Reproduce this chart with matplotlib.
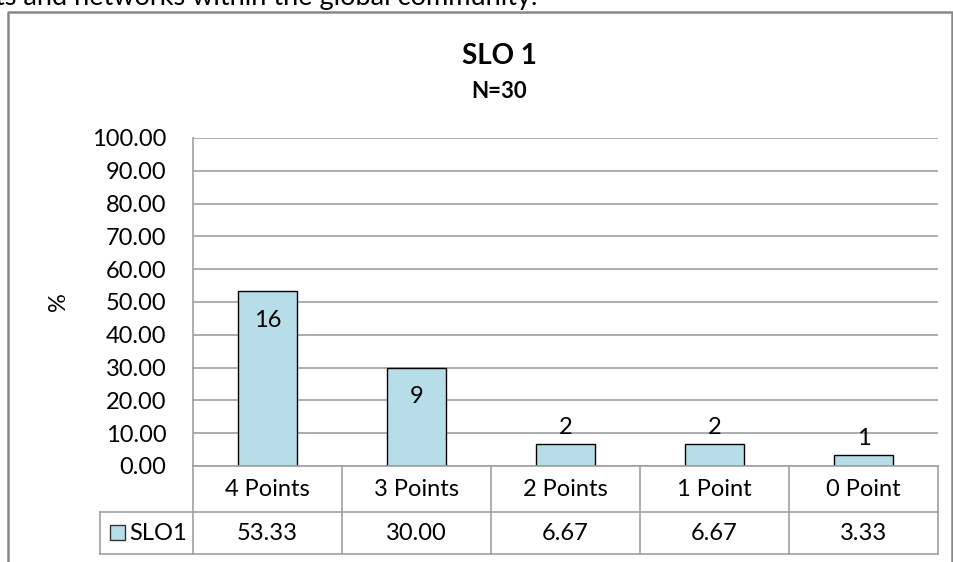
import numpy as np
import matplotlib.pyplot as plt
from matplotlib.patches import Rectangle
from matplotlib.lines import Line2D

categories = ['4 Points', '3 Points', '2 Points', '1 Point', '0 Point']
percent = [53.33, 30.00, 6.67, 6.67, 3.33]
counts = [16, 9, 2, 2, 1]
series_name = 'SLO1'
yticks = np.arange(0, 101, 10)

plt.rcParams['font.family'] = ['Lato', 'DejaVu Sans']
bar_color = '#b7dde8'
grid_color = '#a0a0a0'
fs = 17

W, H = 954, 562
fig = plt.figure(figsize=(W / 100, H / 100), dpi=100)

def fx(px):
    return px / W

def fy(py):
    return 1 - py / H

# outer chart border (bottom cut off)
fig.add_artist(Line2D([fx(8), fx(8), fx(952), fx(952)],
                      [0, fy(12), fy(12), 0], color='#888888', lw=1.8))

# cut-off text from the page above
fig.text(fx(-5), fy(5), 'ts and networks within the global community.',
         fontsize=19.5, va='baseline', ha='left', color='black')

ax = fig.add_axes([fx(193), fy(466), fx(938) - fx(193), fy(138) - fy(466)])
x = np.arange(len(categories))
ax.bar(x, percent, width=0.4, color=bar_color, edgecolor='black', lw=1, zorder=3)
ax.set_xlim(-0.5, len(categories) - 0.5)
ax.set_ylim(0, 100)
ax.set_yticks(yticks)
ax.set_yticklabels([f'{v:.2f}' for v in yticks], fontsize=fs)
ax.tick_params(axis='y', length=0, pad=19)
ax.set_xticks([])
ax.grid(axis='y', color=grid_color, lw=1.2, zorder=0)
for s in ['top', 'right', 'bottom']:
    ax.spines[s].set_visible(False)
ax.spines['left'].set_color(grid_color)
ax.spines['left'].set_linewidth(1.2)

for xi, v, c in zip(x, percent, counts):
    if v > 20:
        ax.annotate(str(c), (xi, v), xytext=(0, -21), textcoords='offset points',
                    ha='center', va='center', fontsize=fs)
    else:
        ax.annotate(str(c), (xi, v), xytext=(0, 12), textcoords='offset points',
                    ha='center', va='center', fontsize=fs)

fig.text(fx(58), fy(302), '%', rotation=90, fontsize=fs, ha='center', va='center')
fig.suptitle('SLO 1', x=fx(499), y=fy(56), fontsize=20, fontweight='bold', va='center')
fig.text(fx(499), fy(92), 'N=30', fontsize=16, fontweight='bold', ha='center', va='center')

# data table under the chart
col_l = 193
col_w = (938 - 193) / len(categories)
r0, r1, r2 = 466, 512, 554
tc = grid_color
fig.add_artist(Line2D([fx(col_l), fx(938)], [fy(r0), fy(r0)], color=tc, lw=1.2))
fig.add_artist(Line2D([fx(100), fx(938)], [fy(r1), fy(r1)], color=tc, lw=1.2))
fig.add_artist(Line2D([fx(100), fx(938)], [fy(r2), fy(r2)], color=tc, lw=1.2))
fig.add_artist(Line2D([fx(100), fx(100)], [fy(r1), fy(r2)], color=tc, lw=1.2))
for i in range(len(categories) + 1):
    xx = col_l + i * col_w
    fig.add_artist(Line2D([fx(xx), fx(xx)], [fy(r0), fy(r2)], color=tc, lw=1.2))
for i, (cat, v) in enumerate(zip(categories, percent)):
    cx = col_l + (i + 0.5) * col_w
    fig.text(fx(cx), fy((r0 + r1) / 2), cat, fontsize=fs, ha='center', va='center')
    fig.text(fx(cx), fy((r1 + r2) / 2), f'{v:.2f}', fontsize=fs, ha='center', va='center')
fig.add_artist(Rectangle((fx(110), fy(540)), fx(15), fy(525) - fy(540),
                         facecolor=bar_color, edgecolor='#333333', lw=1))
fig.text(fx(129), fy((r1 + r2) / 2), series_name, fontsize=fs, ha='left', va='center')

fig.savefig('out.png', dpi=100)
